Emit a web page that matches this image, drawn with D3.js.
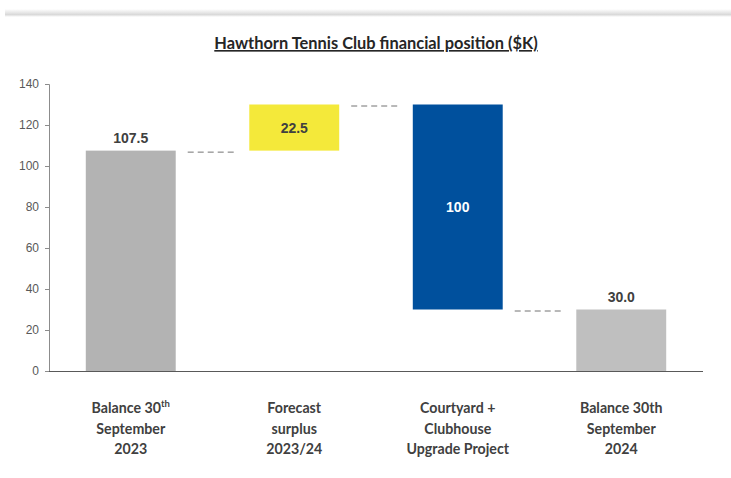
<!DOCTYPE html>
<html>
<head>
<meta charset="utf-8">
<script src="https://cdn.jsdelivr.net/npm/d3@7"></script>
<style>
  body { margin: 0; background: #fff; }
  svg { display: block; }
</style>
</head>
<body>
<div id="chart"></div>
<script>
// Datos del waterfall
const categories = ["bal23", "surplus", "project", "bal24"];
const labelLines = [
  [["Balance 30", "th"], ["September"], ["2023"]],
  [["Forecast"], ["surplus"], ["2023/24"]],
  [["Courtyard +"], ["Clubhouse"], ["Upgrade Project"]],
  [["Balance 30th"], ["September"], ["2024"]]
];
const startValues = [0, 107.5, 130, 0];
const endValues = [107.5, 130, 30, 30];
const valueLabels = ["107.5", "22.5", "100", "30.0"];
const barColors = ["#b3b3b3", "#f4e93a", "#00509d", "#bfbfbf"];
const yTicks = [0, 20, 40, 60, 80, 100, 120, 140];

const width = 731, height = 478;
const margin = {top: 84, right: 28, bottom: 107, left: 49};

const svg = d3.select("#chart").append("svg")
  .attr("width", width)
  .attr("height", height);

// Sombra superior
const grad = svg.append("defs").append("linearGradient")
  .attr("id", "shade").attr("x1", 0).attr("x2", 0).attr("y1", 0).attr("y2", 1);
grad.append("stop").attr("offset", "0%").attr("stop-color", "#fff");
grad.append("stop").attr("offset", "70%").attr("stop-color", "#d9d9d9");
grad.append("stop").attr("offset", "100%").attr("stop-color", "#fff");
svg.append("rect")
  .attr("x", 5).attr("y", 9).attr("width", width - 5).attr("height", 8)
  .attr("fill", "url(#shade)");

const x = d3.scaleBand()
  .domain(categories)
  .range([margin.left, width - margin.right])
  .paddingInner(0.45)
  .paddingOuter(0.225);

const y = d3.scaleLinear()
  .domain([0, 140])
  .range([height - margin.bottom, margin.top]);

// Titulo
svg.append("text")
  .attr("x", 376)
  .attr("y", 49)
  .attr("text-anchor", "middle")
  .attr("font-family", "Lato, 'Open Sans', sans-serif")
  .attr("font-size", 16.4)
  .attr("font-weight", "bold")
  .attr("fill", "#262626")
  .attr("text-decoration", "underline")
  .text("Hawthorn Tennis Club financial position ($K)");

// Eje Y
const yAxis = svg.append("g")
  .attr("transform", `translate(${margin.left},0)`)
  .call(d3.axisLeft(y).tickValues(yTicks).tickSize(4).tickPadding(6));
yAxis.select(".domain").attr("stroke", "#8c8c8c");
yAxis.selectAll(".tick line").attr("stroke", "#8c8c8c");
yAxis.selectAll(".tick text")
  .attr("font-family", "'Liberation Sans', Arial, sans-serif")
  .attr("font-size", 12)
  .attr("fill", "#595959");

// Barras
svg.append("g")
  .selectAll("rect")
  .data(categories)
  .join("rect")
  .attr("x", d => x(d))
  .attr("width", x.bandwidth())
  .attr("y", (d, i) => y(Math.max(startValues[i], endValues[i])))
  .attr("height", (d, i) => Math.abs(y(startValues[i]) - y(endValues[i])))
  .attr("fill", (d, i) => barColors[i]);

// Conectores punteados
const connectors = categories.slice(0, -1).map((d, i) => ({from: d, to: categories[i + 1], v: endValues[i]}));
svg.append("g")
  .selectAll("line")
  .data(connectors)
  .join("line")
  .attr("x1", d => x(d.from) + x.bandwidth() + 12)
  .attr("x2", d => x(d.to) - 12)
  .attr("y1", d => y(d.v) + 1.5)
  .attr("y2", d => y(d.v) + 1.5)
  .attr("stroke", "#737373")
  .attr("stroke-width", 1)
  .attr("stroke-dasharray", "6,4");

// Etiquetas de valor
svg.append("g")
  .selectAll("text")
  .data(categories)
  .join("text")
  .attr("x", d => x(d) + x.bandwidth() / 2)
  .attr("y", (d, i) => {
    if (i === 0 || i === 3) return y(endValues[i]) - 8;
    return (y(startValues[i]) + y(endValues[i])) / 2 + 5;
  })
  .attr("text-anchor", "middle")
  .attr("font-family", "'Liberation Sans', Arial, sans-serif")
  .attr("font-size", 14)
  .attr("font-weight", "bold")
  .attr("fill", (d, i) => i === 2 ? "#ffffff" : "#404040")
  .text((d, i) => valueLabels[i]);

// Eje X
svg.append("line")
  .attr("x1", margin.left).attr("x2", width - margin.right)
  .attr("y1", y(0) + 0.5).attr("y2", y(0) + 0.5)
  .attr("stroke", "#595959");

// Etiquetas de categoría
const catLabel = svg.append("g")
  .selectAll("text")
  .data(categories)
  .join("text")
  .attr("text-anchor", "middle")
  .attr("font-family", "Lato, 'Open Sans', sans-serif")
  .attr("font-size", 14.2)
  .attr("font-weight", "bold")
  .attr("fill", "#404040");

catLabel.each(function(d, i) {
  const t = d3.select(this);
  labelLines[i].forEach((parts, j) => {
    t.append("tspan")
      .attr("x", x(d) + x.bandwidth() / 2)
      .attr("y", 413 + j * 20.5)
      .text(parts[0]);
    if (parts[1]) {
      t.append("tspan")
        .attr("dy", -6)
        .attr("font-size", 9.5)
        .text(parts[1]);
    }
  });
});
</script>
</body>
</html>
